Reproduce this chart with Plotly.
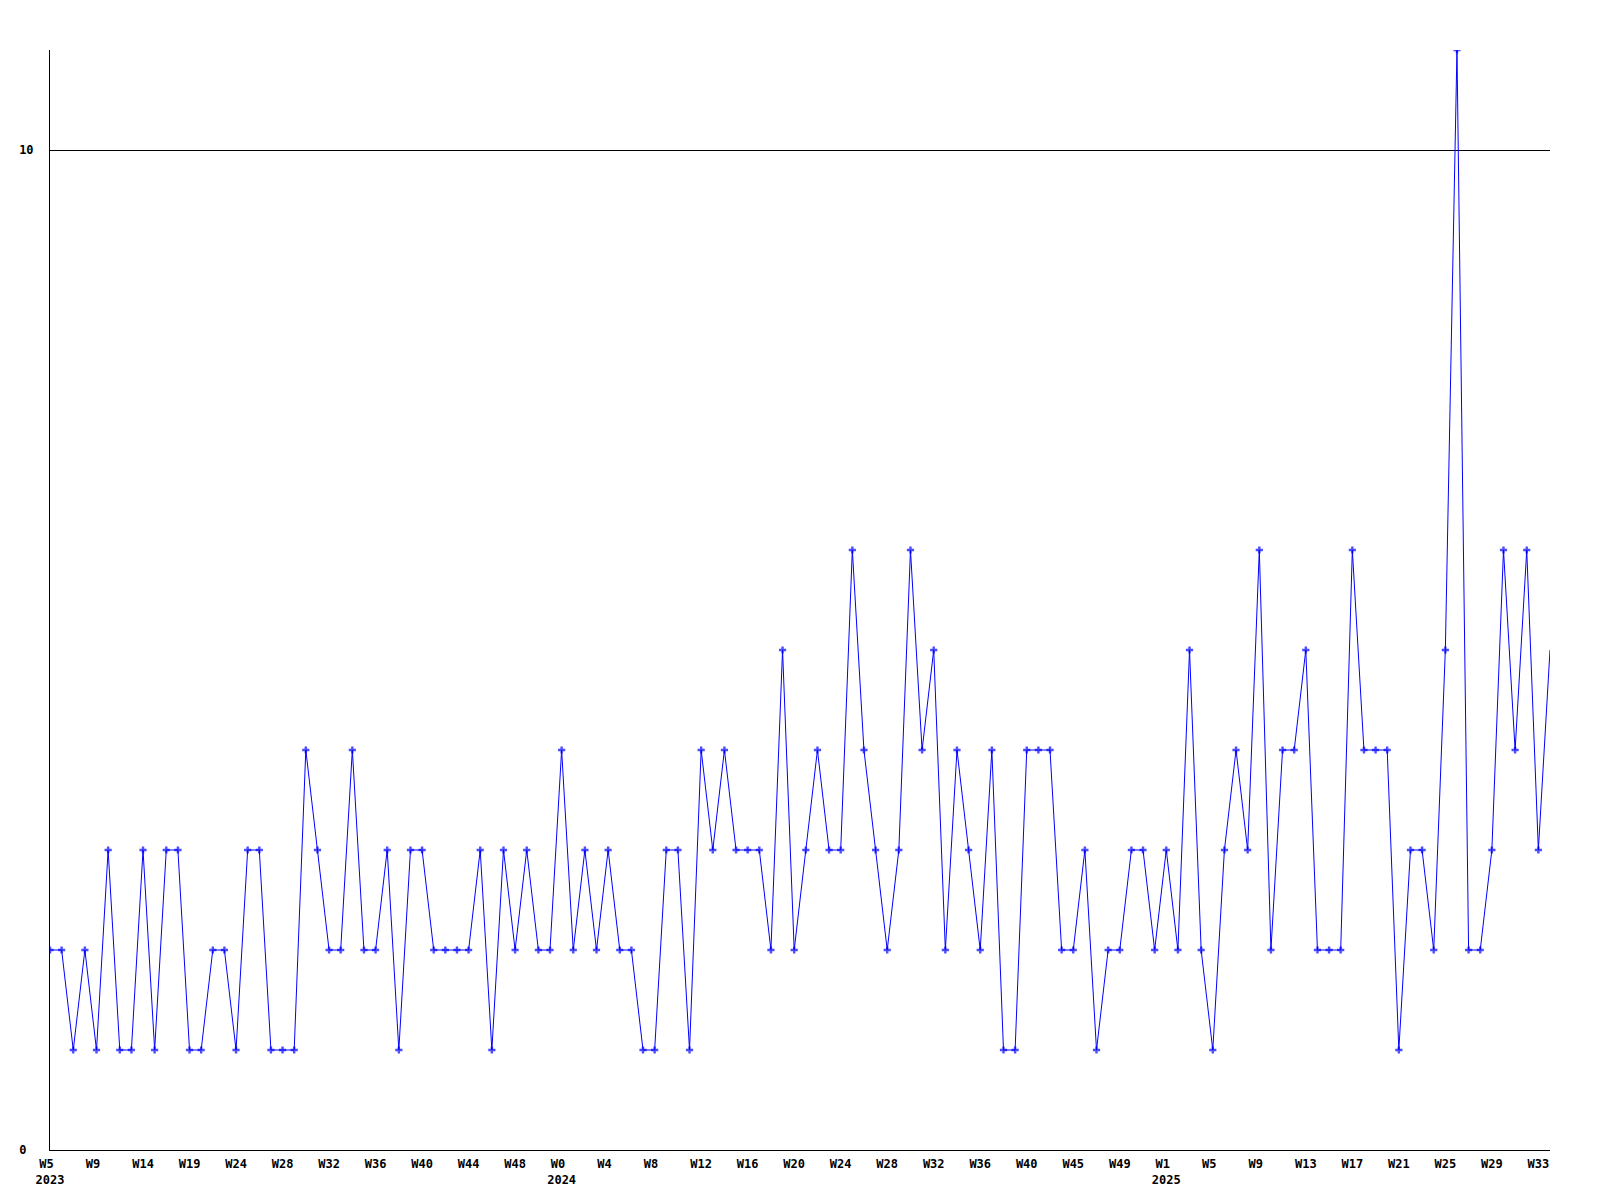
import plotly.graph_objects as go

values = [2, 2, 1, 2, 1, 3, 1, 1, 3, 1, 3, 3, 1, 1, 2, 2, 1, 3, 3, 1,
          1, 1, 4, 3, 2, 2, 4, 2, 2, 3, 1, 3, 3, 2, 2, 2, 2, 3, 1, 3,
          2, 3, 2, 2, 4, 2, 3, 2, 3, 2, 2, 1, 1, 3, 3, 1, 4, 3, 4, 3,
          3, 3, 2, 5, 2, 3, 4, 3, 3, 6, 4, 3, 2, 3, 6, 4, 5, 2, 4, 3,
          2, 4, 1, 1, 4, 4, 4, 2, 2, 3, 1, 2, 2, 3, 3, 2, 3, 2, 5, 2,
          1, 3, 4, 3, 6, 2, 4, 4, 5, 2, 2, 2, 6, 4, 4, 4, 1, 3, 3, 2,
          5, 11, 2, 2, 3, 6, 4, 6, 3, 5]

week_labels = ["W5", "W9", "W14", "W19", "W24", "W28", "W32", "W36",
               "W40", "W44", "W48", "W0", "W4", "W8", "W12", "W16",
               "W20", "W24", "W28", "W32", "W36", "W40", "W45", "W49",
               "W1", "W5", "W9", "W13", "W17", "W21", "W25", "W29", "W33"]
year_labels = {0: "2023", 11: "2024", 24: "2025"}

y_ticks = [0, 10]

x = list(range(len(values)))
tick_positions = [i * 4 for i in range(len(week_labels))]
tick_text = []
for i, w in enumerate(week_labels):
    t = w.ljust(3, "\u00a0")
    if i in year_labels:
        t += "<br>" + year_labels[i]
    tick_text.append(t)
y_text = [str(v).ljust(2, "\u00a0") for v in y_ticks]

marker_sizes = [6] * (len(values) - 1) + [0]

font = dict(family="DejaVu Sans Mono", size=12, color="black", weight="bold")

fig = go.Figure()
fig.add_trace(go.Scatter(
    x=x, y=values, mode="lines+markers",
    line=dict(color="#0000ff", width=1),
    marker=dict(symbol="cross", size=marker_sizes, color="#0000ff",
                line=dict(width=0)),
    showlegend=False,
))

fig.update_layout(
    width=1592, height=1192,
    margin=dict(l=42, r=50, t=42, b=50),
    paper_bgcolor="white", plot_bgcolor="white",
    font=font,
)
fig.update_xaxes(
    range=[0, len(values) - 1],
    tickvals=tick_positions, ticktext=tick_text,
    showgrid=False, zeroline=False,
    showline=True, linecolor="black", linewidth=1,
    ticks="", ticklabelstandoff=3, tickfont=font,
)
fig.update_yaxes(
    range=[0, 11],
    tickvals=y_ticks, ticktext=y_text,
    showgrid=True, gridcolor="black", gridwidth=1,
    zeroline=False,
    showline=True, linecolor="black", linewidth=1,
    ticks="", ticklabelstandoff=13, tickfont=font,
)

fig.write_html("out.html")
